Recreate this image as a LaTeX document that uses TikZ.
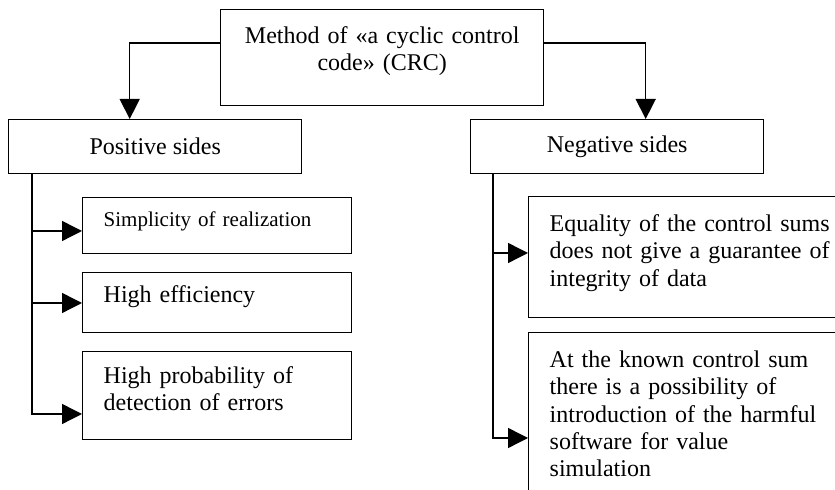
\documentclass[tikz,border=0pt]{standalone}
\usepackage{fontspec}
\setmainfont{Liberation Serif}
\usetikzlibrary{arrows.meta}

\begin{document}
\begin{tikzpicture}[
    x=0.5pt, y=-0.5pt,
    every node/.style={font={\fontsize{12}{13.6}\selectfont}},
    head/.style={draw,anchor=north west,align=center,inner sep=0pt,line width=0.7pt},
    side/.style={draw,anchor=north west,minimum width=146.5pt,minimum height=27pt,
                 inner sep=0pt,line width=0.7pt},
    item/.style={draw,anchor=north west,align=left,inner xsep=10.5pt,inner ysep=0pt,
                 line width=0.7pt},
    trans/.style={-{Triangle[length=10pt,width=10pt]},line width=0.7pt}
  ]
    \useasboundingbox (0,0) rectangle (835,490);
    \clip (0,0) rectangle (835,490);

    \node[head,text width=161.5pt,text height=17pt,text depth=31pt] (crc) at (220,9)
      {Method of «a cyclic control\\code» (CRC)};

    \node[side] (pos) at (8,119) {Positive sides};
    \node[side] (neg) at (470,119) {Negative sides};

    %% positive sides
    \node[item,text width=113.5pt,text height=14.5pt,text depth=13.5pt,
          font={\fontsize{10.5}{12}\selectfont}] (simp) at (82,197)
      {Simplicity of realization};
    \node[item,text width=113.5pt,text height=15pt,text depth=15pt] (eff) at (82,272)
      {High efficiency};
    \node[item,text width=113.5pt,text height=16pt,text depth=28pt] (prob) at (82,351)
      {High probability of\\detection of errors};

    %% negative sides
    \node[item,text width=165pt,text height=17.5pt,text depth=43pt] (eq) at (528,196)
      {Equality of the control sums\\does not give a guarantee of\\integrity of data};
    \node[item,text width=165pt,text height=17.5pt,text depth=76.5pt] (harm) at (528,332)
      {At the known control sum\\there is a possibility of\\introduction of the harmful\\software for value\\simulation};

    %% method -> sides
    \draw[trans] ([yshift=-17pt]crc.north west) -| ([xshift=-12.75pt]pos.north);
    \draw[trans] ([yshift=-17pt]crc.north east) -| ([xshift=14.25pt]neg.north);

    %% branches
    \draw[trans] ([xshift=12pt]pos.south west) |- ([yshift=-17pt]simp.north west);
    \draw[trans] ([xshift=12pt]pos.south west) |- ([yshift=-15.5pt]eff.north west);
    \draw[trans] ([xshift=12pt]pos.south west) |- ([yshift=-31.5pt]prob.north west);
    \draw[trans] ([xshift=11.5pt]neg.south west) |- ([yshift=-28.5pt]eq.north west);
    \draw[trans] ([xshift=11.5pt]neg.south west) |- ([yshift=-53pt]harm.north west);
  \end{tikzpicture}
\end{document}
